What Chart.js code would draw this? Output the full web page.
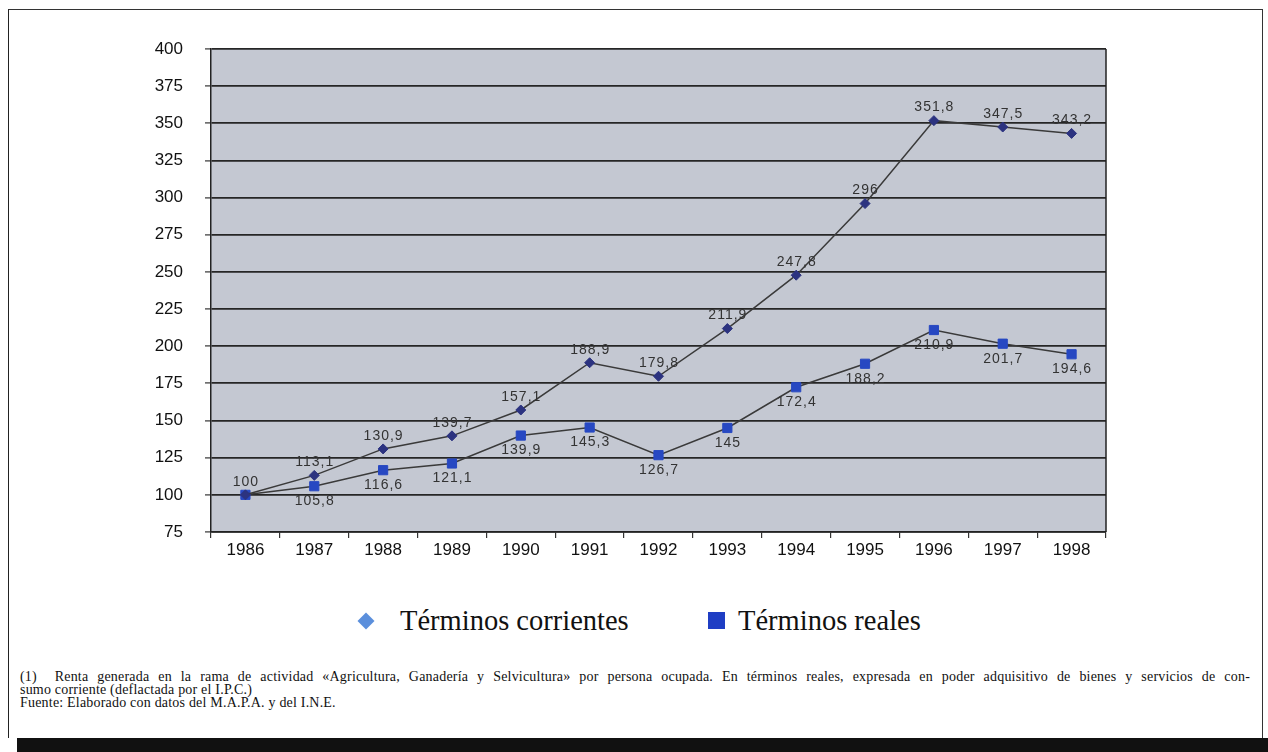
<!DOCTYPE html>
<html lang="es">
<head>
<meta charset="utf-8">
<title>Renta agraria por ocupado</title>
<script src="https://cdn.jsdelivr.net/npm/chart.js@4/dist/chart.umd.min.js"></script>
<style>
  html, body { margin: 0; padding: 0; background: #fff; }
  #page { position: relative; width: 1268px; height: 752px; overflow: hidden; background: #fff; }
  #frame { position: absolute; left: 8px; top: 9px; width: 1253px; height: 728px;
           border-left: 1px solid #222; border-top: 1px solid #333; border-right: 1px solid #333; }
  #band { position: absolute; left: 17px; top: 738px; right: 0; bottom: 0; background: #111; }
  #chart { position: absolute; left: 0; top: 0; }
  .legend-text { position: absolute; font-family: "Liberation Serif", "Times New Roman", serif;
                 font-size: 28.5px; color: #111; line-height: 30px; top: 606px; white-space: nowrap; }
  #mark-corr { position: absolute; left: 360px; top: 615px; width: 12px; height: 12px;
               background: #5b8fdc; transform: rotate(45deg); }
  #mark-real { position: absolute; left: 708px; top: 612px; width: 17px; height: 17px; background: #1f3ec4; }
  .note { position: absolute; left: 20px; font-family: "Liberation Serif", "Times New Roman", serif;
          font-size: 14px; line-height: 13px; letter-spacing: 0.2px; color: #111; white-space: nowrap; }
  #note1 { top: 670px; width: 1230px; text-align: justify; text-align-last: justify; white-space: normal; }
</style>
</head>
<body>
<div id="page">
  <div id="frame"></div>
  <canvas id="chart" width="1268" height="580"></canvas>
  <div id="mark-corr"></div>
  <div class="legend-text" style="left:400px">Términos corrientes</div>
  <div id="mark-real"></div>
  <div class="legend-text" style="left:738px">Términos reales</div>
  <div class="note" id="note1">(1)&nbsp; Renta generada en la rama de actividad «Agricultura, Ganadería y Selvicultura» por persona ocupada. En términos reales, expresada en poder adquisitivo de bienes y servicios de con-</div>
  <div class="note" style="top:683px">sumo corriente (deflactada por el I.P.C.)</div>
  <div class="note" style="top:696px">Fuente: Elaborado con datos del M.A.P.A. y del I.N.E.</div>
  <div id="band"></div>
</div>

<script>
// Data (index 1986 = 100)
const years = ['1986', '1987', '1988', '1989', '1990', '1991', '1992', '1993', '1994', '1995', '1996', '1997', '1998'];
const corrientes = [100, 113.1, 130.9, 139.7, 157.1, 188.9, 179.8, 211.9, 247.8, 296, 351.8, 347.5, 343.2];
const reales = [100, 105.8, 116.6, 121.1, 139.9, 145.3, 126.7, 145, 172.4, 188.2, 210.9, 201.7, 194.6];
const yMin = 75;
const yMax = 400;
const yStep = 25;

const PLOT_BG = '#c4c8d2';
const LINE_COLOR = '#3a3a3a';

function formatValue(v) {
  return String(v).replace('.', ',');
}

// fills the plot area and closes its right side
const plotFrame = {
  id: 'plotFrame',
  beforeDraw(chart) {
    const { ctx, chartArea: a } = chart;
    ctx.save();
    ctx.fillStyle = PLOT_BG;
    ctx.fillRect(a.left, a.top, a.right - a.left, a.bottom - a.top);
    ctx.restore();
  },
  afterDraw(chart) {
    const { ctx, chartArea: a } = chart;
    ctx.save();
    ctx.strokeStyle = '#222';
    ctx.lineWidth = 1.5;
    ctx.beginPath();
    ctx.moveTo(a.right, a.top);
    ctx.lineTo(a.right, a.bottom);
    ctx.stroke();
    ctx.restore();
  }
};

// value labels: current terms above the point, real terms below
const valueLabels = {
  id: 'valueLabels',
  afterDatasetsDraw(chart) {
    const ctx = chart.ctx;
    ctx.save();
    ctx.font = '14px Arial, "Liberation Sans", sans-serif';
    ctx.letterSpacing = '1px';
    ctx.fillStyle = '#333';
    ctx.textAlign = 'center';
    ctx.textBaseline = 'middle';
    chart.data.datasets.forEach((ds, di) => {
      const meta = chart.getDatasetMeta(di);
      meta.data.forEach((pt, i) => {
        if (di === 1 && i === 0) return; // shared 100 label
        const dy = di === 0 ? -13 : 15;
        ctx.fillText(formatValue(ds.data[i]), pt.x + 0.5, pt.y + dy);
      });
    });
    ctx.restore();
  }
};

function renderChart() {
  const ctx = document.getElementById('chart');
  new Chart(ctx, {
    type: 'line',
    data: {
      labels: years,
      datasets: [
        {
          label: 'Términos corrientes',
          data: corrientes,
          borderColor: LINE_COLOR,
          borderWidth: 1.5,
          pointStyle: 'rectRot',
          pointRadius: 5,
          pointBackgroundColor: '#2c3380',
          pointBorderColor: '#2c3380',
          pointBorderWidth: 1,
          tension: 0
        },
        {
          label: 'Términos reales',
          data: reales,
          borderColor: LINE_COLOR,
          borderWidth: 1.5,
          pointStyle: 'rect',
          pointRadius: 6.5,
          pointBackgroundColor: '#2748c2',
          pointBorderColor: '#2748c2',
          pointBorderWidth: 1,
          tension: 0
        }
      ]
    },
    options: {
      responsive: false,
      animation: false,
      devicePixelRatio: 1,
      layout: { padding: { top: 49, right: 162, bottom: 0, left: 0 } },
      plugins: {
        legend: { display: false },
        tooltip: { enabled: false }
      },
      scales: {
        x: {
          offset: true,
          grid: { offset: true, drawOnChartArea: false, tickLength: 6, color: '#333', lineWidth: 1.2 },
          border: { color: '#222', width: 1.5 },
          ticks: { color: '#111', font: { family: 'Arial, "Liberation Sans", sans-serif', size: 17 }, padding: 2, maxRotation: 0 },
          afterFit(scale) { scale.height = 48; }
        },
        y: {
          min: yMin,
          max: yMax,
          grid: { color: '#262626', lineWidth: 1.8, tickLength: 6, tickColor: '#333', tickWidth: 1.2 },
          border: { color: '#222', width: 1.5 },
          ticks: { stepSize: yStep, color: '#111', font: { family: 'Arial, "Liberation Sans", sans-serif', size: 17 }, padding: 22 },
          afterFit(scale) { scale.width = 211; }
        }
      }
    },
    plugins: [plotFrame, valueLabels]
  });
}

document.addEventListener('DOMContentLoaded', () => {
  if (typeof Chart === 'undefined') return;
  renderChart();
});
</script>
</body>
</html>
